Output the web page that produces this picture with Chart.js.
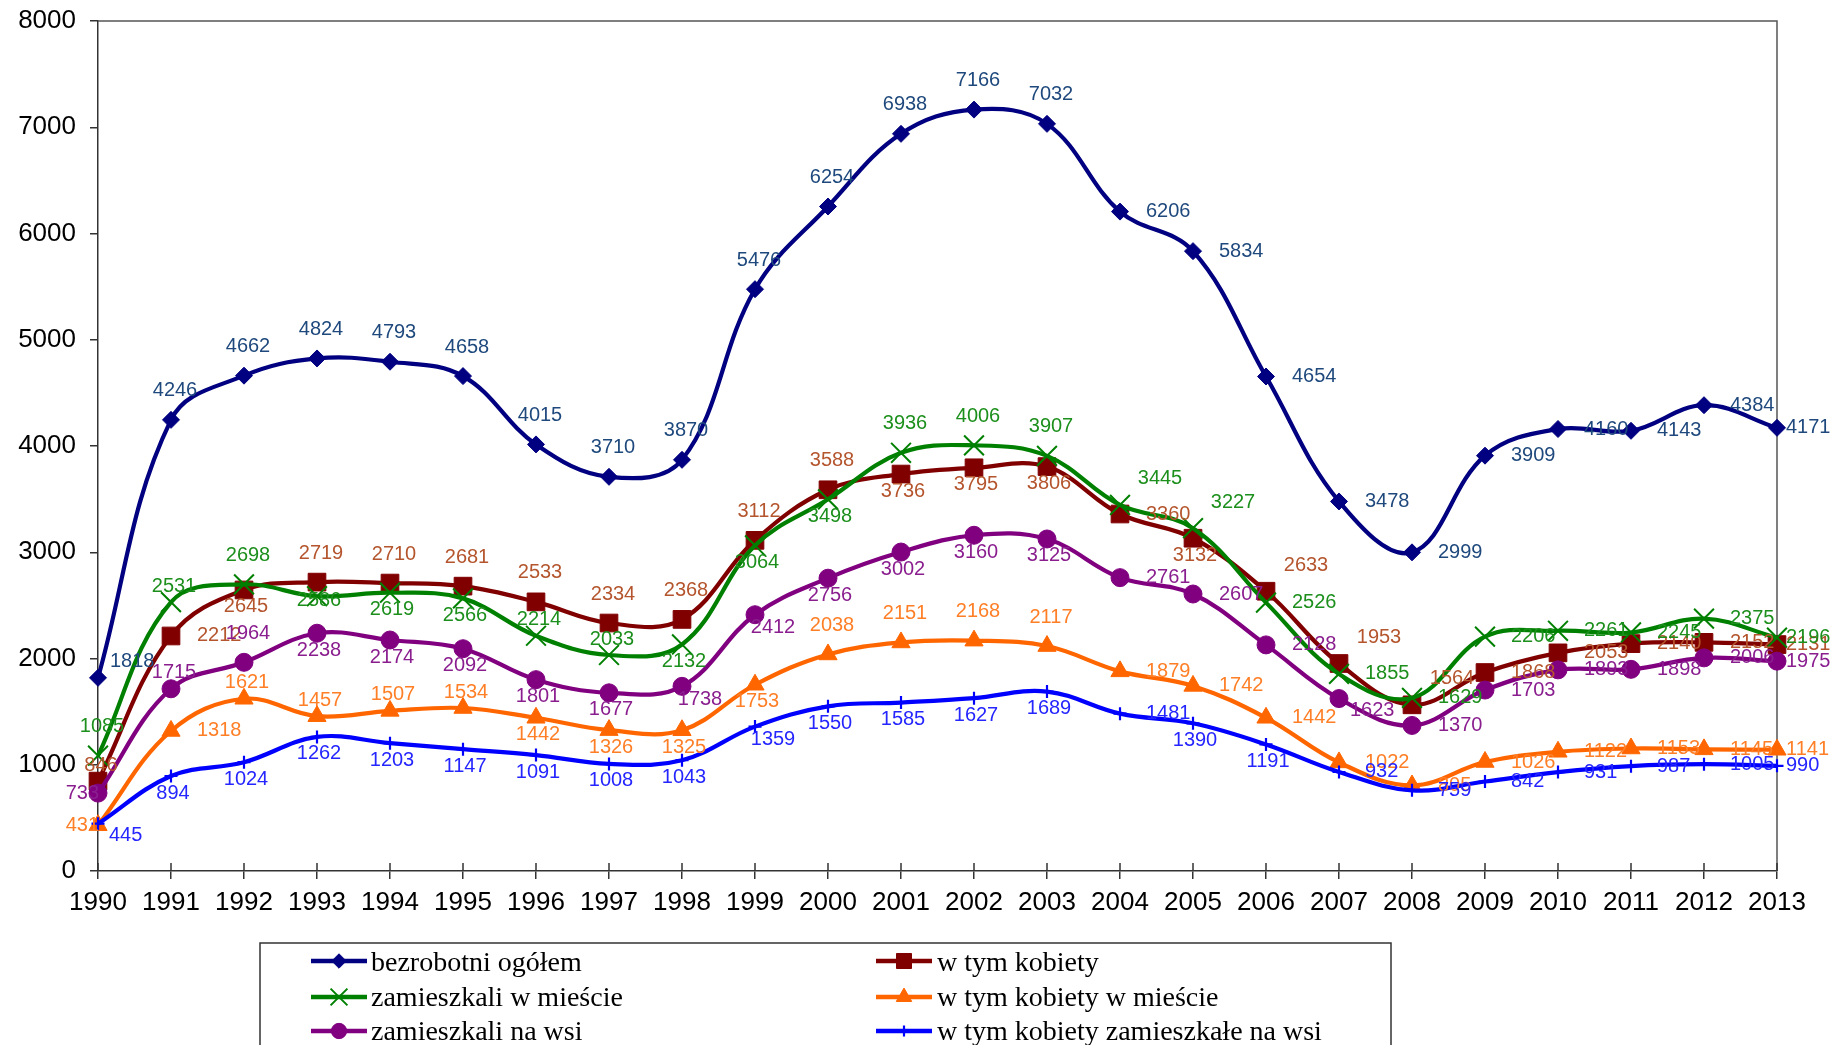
<!DOCTYPE html>
<html>
<head>
<meta charset="utf-8">
<script src="https://cdn.jsdelivr.net/npm/chart.js@4.4.1/dist/chart.umd.min.js"></script>
<style>
html,body{margin:0;padding:0;background:#fff;}
#wrap{width:1836px;height:1045px;position:relative;}
</style>
</head>
<body>
<div id="wrap"><canvas id="c"></canvas></div>
<script>
// ---- data ----
const years = ['1990','1991','1992','1993','1994','1995','1996','1997','1998','1999','2000','2001','2002','2003','2004','2005','2006','2007','2008','2009','2010','2011','2012','2013'];
const bezrobotniOgolem   = [1818,4246,4662,4824,4793,4658,4015,3710,3870,5476,6254,6938,7166,7032,6206,5834,4654,3478,2999,3909,4160,4143,4384,4171];
const wTymKobiety        = [846,2212,2645,2719,2710,2681,2533,2334,2368,3112,3588,3736,3795,3806,3360,3132,2633,1953,1564,1868,2053,2140,2152,2131];
const zamieszkaliWMiescie= [1085,2531,2698,2586,2619,2566,2214,2033,2132,3064,3498,3936,4006,3907,3445,3227,2526,1855,1629,2206,2261,2245,2375,2196];
const wTymKobietyWMiescie= [431,1318,1621,1457,1507,1534,1442,1326,1325,1753,2038,2151,2168,2117,1879,1742,1442,1022,805,1026,1122,1153,1145,1141];
const zamieszkaliNaWsi   = [733,1715,1964,2238,2174,2092,1801,1677,1738,2412,2756,3002,3160,3125,2761,2607,2128,1623,1370,1703,1893,1898,2006,1975];
const wTymKobietyNaWsi   = [445,894,1024,1262,1203,1147,1091,1008,1043,1359,1550,1585,1627,1689,1481,1390,1191,932,759,842,931,987,1005,990];
const seriesNames = ['bezrobotni ogółem','w tym kobiety','zamieszkali w mieście','w tym kobiety w mieście','zamieszkali na wsi','w tym kobiety zamieszkałe na wsi'];
const yMin = 0, yMax = 8000, yStep = 1000;

// ---- label placement (style) ----
const labelPlacement = [
  'RU T T T T T T T T T T T T T R R R R R R R R R r',
  't R B T T T T T T T T B B B R B TR TR TR R R R R r',
  'T t T C B B t t B B B T T T TR TR R R R R R R R r',
  'L R t t t t B B B B T T T T R R R R R R R R R r',
  'L t T B B B B B BR BR B B B B R R R RD R R R R R r',
  'RD B B B B B B B B BR B B B B R B B R R R R R R r'
].map(s => s.split(' '));
const OFF = {
  T:{a:'center',dx:4,dy:-29}, t:{a:'center',dx:3,dy:-16}, B:{a:'center',dx:2,dy:17},
  R:{a:'left',dx:26,dy:0}, r:{a:'left',dx:9,dy:0}, L:{a:'right',dx:1,dy:0},
  TR:{a:'center',dx:40,dy:-26}, BR:{a:'center',dx:18,dy:13}, C:{a:'center',dx:2,dy:4},
  RU:{a:'left',dx:12,dy:-16}, RD:{a:'left',dx:11,dy:12}
};

const styles = [
  {line:'#000080', label:'#1F497D', ps:'rectRot', r:8.5, bw:1, fill:'#000080'},
  {line:'#800000', label:'#B4552D', ps:'rect', r:12.5, bw:1, fill:'#800000'},
  {line:'#008000', label:'#1C8F1C', ps:'crossRot', r:14, bw:2, fill:'#008000'},
  {line:'#FF6600', label:'#FF7F27', ps:'triangle', r:10.5, bw:1, fill:'#FF6600'},
  {line:'#800080', label:'#8A1E8F', ps:'circle', r:9, bw:1, fill:'#800080'},
  {line:'#0000FF', label:'#2525FF', ps:'cross', r:6.5, bw:2.2, fill:'#0000FF'}
];
const allData = [bezrobotniOgolem,wTymKobiety,zamieszkaliWMiescie,wTymKobietyWMiescie,zamieszkaliNaWsi,wTymKobietyNaWsi];

const datasets = allData.map((d,i)=>({
  label: seriesNames[i],
  data: d,
  borderColor: styles[i].line,
  backgroundColor: styles[i].fill,
  borderWidth: 4.2,
  tension: 0.38,
  fill: false,
  pointStyle: styles[i].ps,
  pointRadius: styles[i].r,
  pointHoverRadius: styles[i].r,
  pointBorderWidth: styles[i].bw,
  pointBackgroundColor: styles[i].fill,
  pointBorderColor: styles[i].line,
  order: 5 - i,
  labelColor: styles[i].label,
  labelPos: labelPlacement[i]
}));

const SANS = '"Liberation Sans", Arial, sans-serif';

const framePlugin = {
  id:'frame',
  beforeDatasetsDraw(chart){
    const {ctx, chartArea:a} = chart;
    ctx.save();
    ctx.strokeStyle = '#555';
    ctx.lineWidth = 1.5;
    ctx.beginPath();
    ctx.moveTo(a.left, a.top); ctx.lineTo(a.right, a.top); ctx.lineTo(a.right, a.bottom);
    ctx.stroke();
    const xs = chart.scales.x;
    ctx.strokeStyle = '#333';
    ctx.beginPath();
    years.forEach((y,i)=>{
      const x = xs.getPixelForValue(i);
      ctx.moveTo(x, a.bottom); ctx.lineTo(x, a.bottom - 8);
    });
    ctx.stroke();
    ctx.restore();
  }
};

const labelPlugin = {
  id:'valueLabels',
  afterDatasetsDraw(chart){
    const ctx = chart.ctx;
    ctx.save();
    ctx.font = '20px ' + SANS;
    ctx.textBaseline = 'middle';
    chart.data.datasets.forEach((ds,di)=>{
      const meta = chart.getDatasetMeta(di);
      meta.data.forEach((pt,i)=>{
        const o = OFF[ds.labelPos[i]] || OFF.T;
        ctx.fillStyle = ds.labelColor;
        ctx.textAlign = o.a;
        ctx.fillText(String(ds.data[i]), pt.x + o.dx, pt.y + o.dy);
      });
    });
    ctx.restore();
  }
};

const legendPlugin = {
  id:'boxLegend',
  afterDraw(chart){
    const ctx = chart.ctx;
    const box = {x:260, y:943, w:1131, h:160};
    const cols = [{l0:311,l1:367,tx:371},{l0:876,l1:932,tx:937}];
    const rows = [{my:961,by:971},{my:997,by:1006},{my:1031,by:1040}];
    ctx.save();
    ctx.strokeStyle = '#333';
    ctx.lineWidth = 1.5;
    ctx.strokeRect(box.x, box.y, box.w, box.h);
    chart.data.datasets.forEach((ds,i)=>{
      const c = cols[i%2], r = rows[Math.floor(i/2)];
      ctx.strokeStyle = ds.borderColor;
      ctx.lineWidth = 4.5;
      ctx.beginPath(); ctx.moveTo(c.l0, r.my); ctx.lineTo(c.l1, r.my); ctx.stroke();
      ctx.fillStyle = ds.pointBackgroundColor;
      ctx.strokeStyle = ds.pointBorderColor;
      ctx.lineWidth = ds.pointBorderWidth;
      Chart.helpers.drawPoint(ctx, {pointStyle: ds.pointStyle, radius: ds.pointRadius*0.85, rotation:0, borderWidth: ds.pointBorderWidth}, (c.l0+c.l1)/2, r.my);
      ctx.fillStyle = '#000';
      ctx.font = '28px "Liberation Serif", "Times New Roman", serif';
      ctx.textAlign = 'left';
      ctx.textBaseline = 'alphabetic';
      ctx.fillText(ds.label, c.tx, r.by);
    });
    ctx.restore();
  }
};

new Chart(document.getElementById('c'), {
  type:'line',
  data:{labels: years, datasets},
  options:{
    responsive:true,
    maintainAspectRatio:false,
    animation:false,
    events:[],
    layout:{padding:{left:0,right:59,top:21,bottom:0}},
    plugins:{legend:{display:false}, tooltip:{enabled:false}},
    scales:{
      x:{
        type:'category', offset:false,
        grid:{display:true, drawOnChartArea:false, drawTicks:true, tickLength:8, color:'#333', lineWidth:1.5},
        border:{display:true, color:'#333', width:1.5},
        ticks:{font:{size:26, family:SANS}, color:'#000', padding:8, maxRotation:0, autoSkip:false},
        afterFit(s){ s.height = 174; }
      },
      y:{
        min:yMin, max:yMax,
        grid:{display:true, drawOnChartArea:false, drawTicks:true, tickLength:8, color:'#333', lineWidth:1.5},
        border:{display:true, color:'#333', width:1.5},
        ticks:{stepSize:yStep, font:{size:26, family:SANS}, color:'#000', padding:14, callback:(v)=>String(v)},
        afterFit(s){ s.width = 98; s.paddingTop = 0; s.paddingBottom = 0; }
      }
    }
  },
  plugins:[framePlugin, labelPlugin, legendPlugin]
});
</script>
</body>
</html>
